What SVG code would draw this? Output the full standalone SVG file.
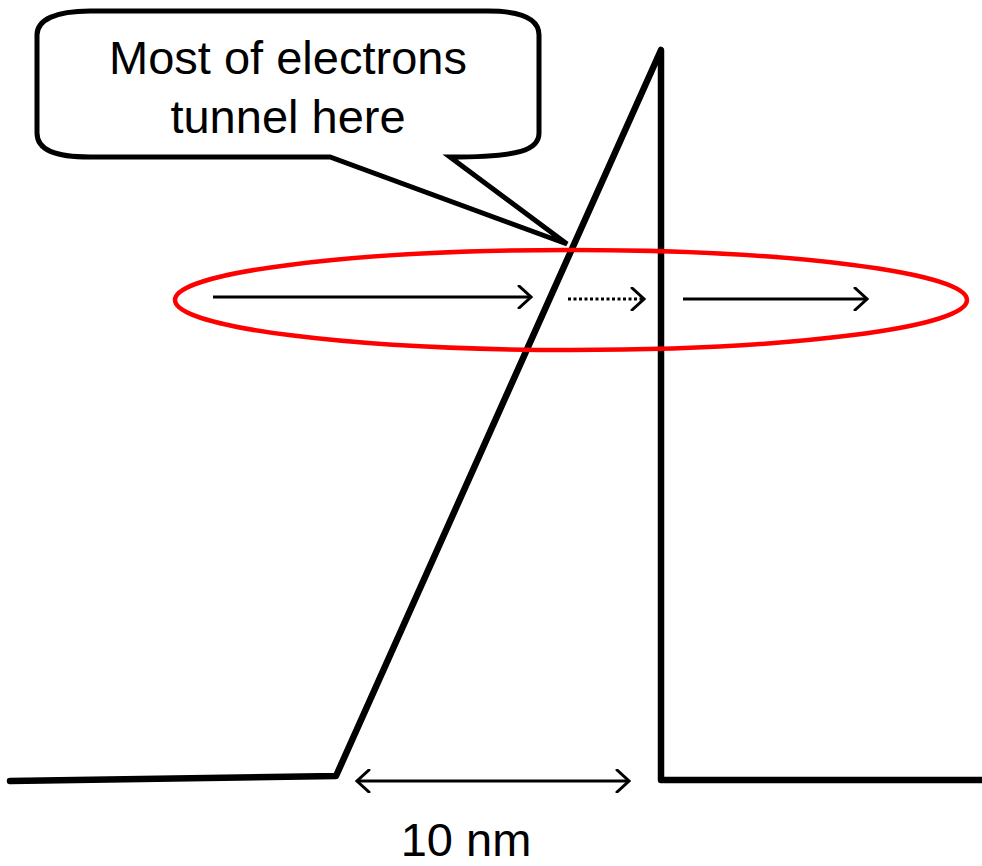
<svg xmlns="http://www.w3.org/2000/svg" width="982" height="866" viewBox="0 0 982 866">
<style>
.band{fill:none;stroke:#000;stroke-width:6.5;stroke-linejoin:round;stroke-linecap:round}
.arr{fill:none;stroke:#000;stroke-width:3}
.head{fill:none;stroke:#000;stroke-width:3;stroke-linecap:round;stroke-linejoin:miter}
.txt{font-family:"Liberation Sans",Arial,sans-serif;font-size:47px;fill:#000;text-anchor:middle}
</style>
<defs>
<marker id="chev" viewBox="-14 -12 16 24" markerWidth="16" markerHeight="24" refX="0" refY="0" orient="auto-start-reverse" markerUnits="userSpaceOnUse">
<path d="M-12,-11 L0,0 L-12,11" class="head"/>
</marker>
</defs>
<rect width="982" height="866" fill="#fff"/>
<g id="band">
<path class="band" d="M10,781 L336,776 L661,50 L661,780 L982,780"/>
</g>
<g id="callout">
<path d="M90,11 L488,11 C525,11 539,20 539,35 L539,133 C539,150 520,157 450,157 L567,244 L330,157 L90,157 C55,157 37,150 37,133 L37,35 C37,20 55,11 90,11 Z" fill="#fff" stroke="#000" stroke-width="5" stroke-linejoin="miter"/>
<text class="txt" x="288" y="74">Most of electrons</text>
<text class="txt" x="288" y="133">tunnel here</text>
</g>
<g id="region">
<ellipse cx="571" cy="300" rx="396" ry="50" fill="none" stroke="#f00" stroke-width="4.5"/>
</g>
<g id="connectors">
<line class="arr" x1="213" y1="297" x2="531" y2="297" marker-end="url(#chev)"/>
<line class="arr" x1="568" y1="299" x2="644" y2="299" stroke-dasharray="3,2.5" marker-end="url(#chev)"/>
<line class="arr" x1="683" y1="299" x2="867" y2="299" marker-end="url(#chev)"/>
<line class="arr" x1="357" y1="781" x2="629" y2="781" marker-start="url(#chev)" marker-end="url(#chev)"/>
</g>
<g id="dimension-label">
<text class="txt" x="466" y="856">10 nm</text>
</g>
</svg>
